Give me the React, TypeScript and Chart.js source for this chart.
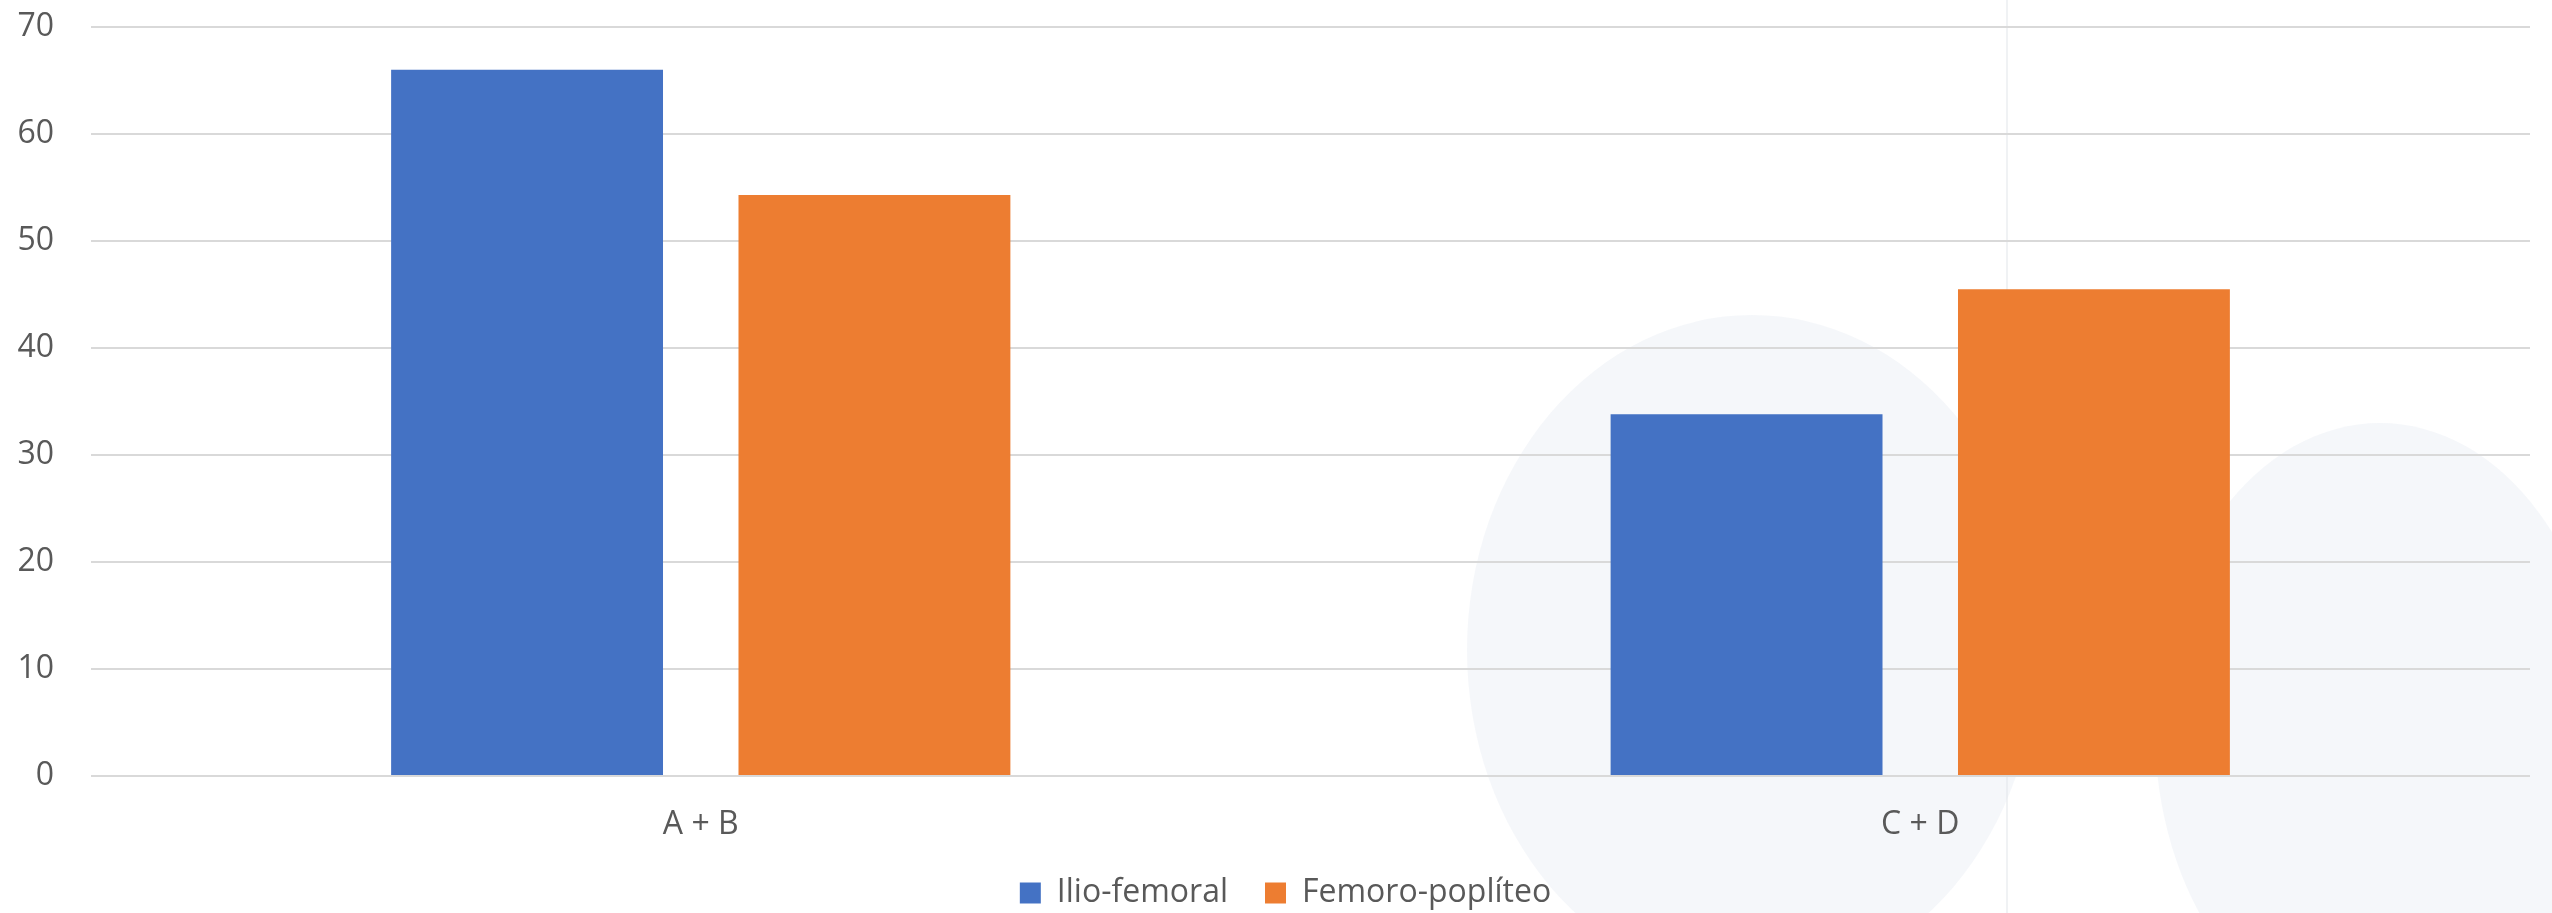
import { useEffect, useRef } from "react";
import { Chart, registerables } from "chart.js";

Chart.register(...registerables);

// ---- data ----
const categories = ["A + B", "C + D"];
const seriesNames = ["Ilio-femoral", "Femoro-poplíteo"];
const ilioFemoral = [66.0, 33.8];
const femoroPopliteo = [54.3, 45.5];
const yTicks = [0, 10, 20, 30, 40, 50, 60, 70];

const BLUE = "#4472C4";
const ORANGE = "#ED7D31";
const TEXT = "#595959";
const GRID = "#D9D9D9";
const FONT = "'Open Sans', 'Noto Sans', sans-serif";

const watermark = {
  id: "watermark",
  beforeDraw(chart: any) {
    const ctx = chart.ctx as CanvasRenderingContext2D;
    ctx.save();
    ctx.fillStyle = "rgba(232,237,243,0.42)";
    ctx.beginPath();
    ctx.ellipse(1752, 650, 285, 335, 0, 0, Math.PI * 2);
    ctx.fill();
    ctx.beginPath();
    ctx.ellipse(2380, 730, 225, 307, 0, 0, Math.PI * 2);
    ctx.fill();
    ctx.strokeStyle = "rgba(228,231,235,0.55)";
    ctx.lineWidth = 2;
    ctx.beginPath();
    ctx.moveTo(2007, 0);
    ctx.lineTo(2007, 913);
    ctx.stroke();
    ctx.restore();
  },
};

const legendShift = {
  id: "legendShift",
  afterLayout(chart: any) {
    const lg = chart.legend;
    if (lg) {
      lg.left += 12;
      lg.right += 12;
    }
  },
};

export default function App() {
  const ref = useRef<HTMLCanvasElement>(null);

  useEffect(() => {
    if (!ref.current) return;
    const chart = new Chart(ref.current, {
      type: "bar",
      data: {
        labels: categories,
        datasets: [
          {
            label: seriesNames[0],
            data: ilioFemoral,
            backgroundColor: BLUE,
            borderWidth: 0,
            categoryPercentage: 0.5697,
            barPercentage: 0.7827,
          },
          {
            label: seriesNames[1],
            data: femoroPopliteo,
            backgroundColor: ORANGE,
            borderWidth: 0,
            categoryPercentage: 0.5697,
            barPercentage: 0.7827,
          },
        ],
      },
      options: {
        responsive: false,
        animation: false,
        devicePixelRatio: 1,
        layout: { padding: { left: 17, right: 22, top: 27, bottom: -6 } },
        scales: {
          x: {
            type: "category",
            offset: true,
            grid: { display: false, drawTicks: false },
            border: { display: false },
            ticks: {
              color: TEXT,
              font: { family: FONT, size: 32 },
              padding: 30,
            },
            afterFit: (axis: any) => {
              axis.height = 64;
              axis.paddingLeft = 0;
              axis.paddingRight = 0;
            },
          },
          y: {
            min: 0,
            max: 70,
            grid: { color: GRID, lineWidth: 2, drawTicks: false },
            border: { display: false },
            ticks: {
              color: TEXT,
              font: { family: FONT, size: 32 },
              padding: 37,
            },
            afterBuildTicks: (axis: any) => {
              axis.ticks = yTicks.map((v) => ({ value: v }));
            },
            afterFit: (axis: any) => {
              axis.width = 74;
              axis.paddingTop = 0;
              axis.paddingBottom = 0;
            },
          },
        },
        plugins: {
          legend: {
            position: "bottom",
            labels: {
              color: TEXT,
              font: { family: FONT, size: 32 },
              boxWidth: 21,
              boxHeight: 21,
              padding: 37,
            },
          },
          tooltip: { enabled: false },
        },
      },
      plugins: [watermark, legendShift],
    });
    return () => chart.destroy();
  }, []);

  return (
    <div
      style={{
        position: "fixed",
        left: 0,
        top: 0,
        width: 2552,
        height: 913,
        background: "#ffffff",
      }}
    >
      <canvas
        ref={ref}
        width={2552}
        height={913}
        style={{ display: "block", width: 2552, height: 913 }}
      />
    </div>
  );
}
